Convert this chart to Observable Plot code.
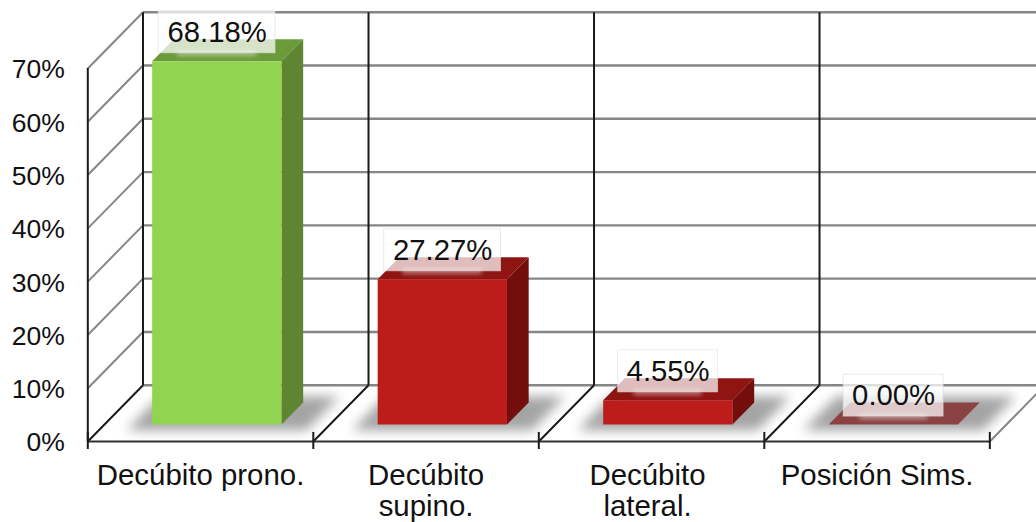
<!DOCTYPE html>
<html>
<head>
<meta charset="utf-8">
<style>
  html, body { margin: 0; padding: 0; background: #fff; }
  svg { display: block; }
</style>
<script src="https://cdn.jsdelivr.net/npm/d3@7"></script>
<script src="https://cdn.jsdelivr.net/npm/@observablehq/plot@0.6"></script>
</head>
<body>
<div id="chart"></div>
<script>
// Posición del paciente: porcentaje por categoría
const categories = ["Decúbito prono.", "Decúbito\nsupino.", "Decúbito\nlateral.", "Posición Sims."];
const percentages = [68.18, 27.27, 4.55, 0];
const valueLabels = ["68.18%", "27.27%", "4.55%", "0.00%"];
const yTicks = [0, 10, 20, 30, 40, 50, 60, 70];

const frontColors = ["#92d350", "#bc1c1a", "#bc1c1a", "#8a4242"];
const topColors = ["#6b9a3a", "#8e1512", "#8e1512", "#8a4242"];
const sideColors = ["#5f8533", "#730e0c", "#730e0c", "#8a4242"];

// Oblique depth, expressed in scale units: one unit of depth shifts a point
// right along x and up along y.
const depthX = 0.2448;
const depthY = 10.56;
const barStart = 0.212;
const barWidth = 0.5734;
const barDepth0 = 0.30;
const barDepth1 = 0.693;
const at = (x, y, d) => ({x: x + d * depthX, y: y + d * depthY});

const polygon = (id, color, points) => points.map(([x, y, d]) => ({id, color, ...at(x, y, d)}));

const faces = percentages.flatMap((v, i) => {
  const x0 = i + barStart, x1 = x0 + barWidth;
  return [
    ...polygon(`side${i}`, sideColors[i], [[x1, 0, barDepth0], [x1, 0, barDepth1], [x1, v, barDepth1], [x1, v, barDepth0]]),
    ...polygon(`top${i}`, topColors[i], [[x0, v, barDepth0], [x1, v, barDepth0], [x1, v, barDepth1], [x0, v, barDepth1]]),
    ...polygon(`front${i}`, frontColors[i], [[x0, 0, barDepth0], [x1, 0, barDepth0], [x1, v, barDepth0], [x0, v, barDepth0]])
  ];
});

const shadows = percentages.flatMap((_, i) => polygon(`shadow${i}`, "#a4a4a4", [
  [i + 0.124, 0, 0.2], [i + 0.92, 0, 0.2], [i + 0.92, 0, 0.8], [i + 0.124, 0, 0.8]
]));

const gridX0 = at(0, 0, 1).x;
const gridX1 = at(categories.length, 0, 1).x;
const labelRows = percentages.map((v, i) => ({
  i, v, label: valueLabels[i],
  ...at(i + 0.5, v, barDepth0),
  half: valueLabels[i].length > 5 ? 0.259 : 0.2216
}));
const edges = d3.range(categories.length + 1);
// The wrapped third label sits slightly left of its slot centre
const categoryShift = [0, 0, -0.018, 0];

const chart = Plot.plot({
  width: 1036,
  height: 522,
  margin: 0,
  style: {background: "#fff", fontFamily: "'Liberation Sans', Arial, sans-serif"},
  x: {domain: [0, 4.207], range: [87.3, 1036], axis: null},
  y: {domain: [0, 70], range: [441, 68], axis: null},
  color: {type: "identity"},
  marks: [
    // Back wall and left wall grid
    Plot.link(yTicks, {x1: gridX0, x2: gridX1, y1: (d) => d + depthY, y2: (d) => d + depthY, stroke: "#868686", strokeWidth: 2.4}),
    Plot.link(yTicks.slice(1), {x1: 0, x2: gridX0, y1: (d) => d, y2: (d) => d + depthY, stroke: "#868686", strokeWidth: 2}),
    Plot.link([categories.length], {x1: (d) => d, x2: (d) => d + depthX, y1: 0, y2: depthY, stroke: "#868686", strokeWidth: 2}),

    // Floor shadows
    Plot.line(shadows, {x: "x", y: "y", z: "id", fill: "color", stroke: null, imageFilter: "blur(6px)"}),

    // Upright edges and floor edges
    Plot.link(edges.slice(0, -1), {x1: (d) => d + depthX, x2: (d) => d + depthX, y1: depthY, y2: 70 + depthY, stroke: "#1a1a1a", strokeWidth: 2}),
    Plot.link(edges.slice(0, -1), {x1: (d) => d, x2: (d) => d + depthX, y1: 0, y2: depthY, stroke: "#1a1a1a", strokeWidth: 2}),
    Plot.ruleX([0], {y1: 0, y2: 70, stroke: "#1a1a1a", strokeWidth: 2}),
    Plot.ruleY([0], {x1: 0, x2: categories.length, stroke: "#333", strokeWidth: 2.2}),
    Plot.ruleX(edges, {y1: -1.5, y2: 1.7, stroke: "#1a1a1a", strokeWidth: 2}),

    // Bars
    Plot.line(faces, {x: "x", y: "y", z: "id", fill: "color", stroke: null}),

    // Value labels on translucent plates, with a soft glow under each plate
    Plot.rect(labelRows, {
      x1: (d) => d.x - d.half * 0.68, x2: (d) => d.x + d.half * 0.68,
      y1: (d) => d.y - 4.5, y2: (d) => d.y - 3.6,
      dy: -29, fill: "#fff", fillOpacity: 0.45, imageFilter: "blur(2px)"
    }),
    Plot.rect(labelRows, {
      x1: (d) => d.x - d.half, x2: (d) => d.x + d.half,
      y1: (d) => d.y - 3.94, y2: (d) => d.y + 3.94,
      dy: -29, fill: "#fff", fillOpacity: 0.72, stroke: "#dcdcdc", strokeOpacity: 0.6, strokeWidth: 1
    }),
    Plot.text(labelRows, {x: "x", y: "y", text: "label", dy: -29, fontSize: 29.3, fill: "#111"}),

    // Axis labels
    Plot.text(yTicks, {x: 0, y: (d) => d, text: (d) => `${d}%`, textAnchor: "end", dx: -23, dy: 1.5, fontSize: 26.5, fill: "#111"}),
    Plot.text(categories, {x: (_, i) => i + 0.5 + categoryShift[i], y: () => 0, text: (d) => d, lineAnchor: "top", dy: 20.5, fontSize: 29.4, lineHeight: 1.08, fill: "#111"})
  ]
});
document.getElementById("chart").append(chart);
</script>
</body>
</html>
